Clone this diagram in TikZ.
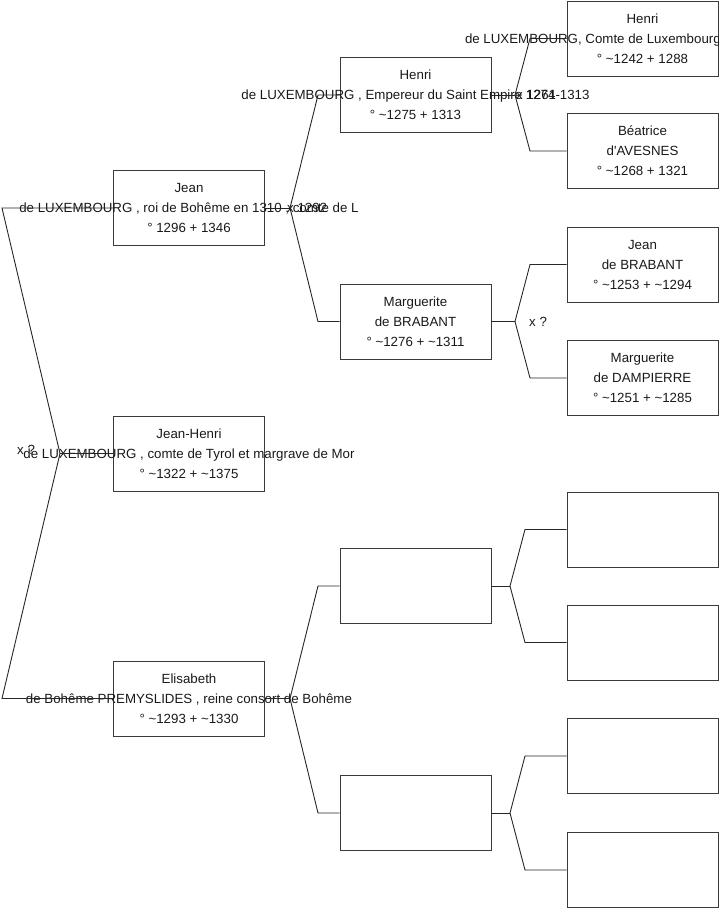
\documentclass[tikz,border=0pt]{standalone}
\usepackage{fontspec}
\setmainfont{Liberation Sans}
\definecolor{boxline}{HTML}{3A3A3A}
\definecolor{linkline}{HTML}{262626}
\newcommand{\tl}{\textasciitilde}
\begin{document}
\begin{tikzpicture}[x=1pt, y=-1pt,
    person/.style={draw=boxline, line width=0.9pt, minimum width=151pt, minimum height=75pt, inner sep=0pt},
    names/.style={align=center, font=\fontsize{13.3}{20}\selectfont, text=black!90, inner sep=0pt},
    link/.style={draw=linkline, line width=0.9pt},
    union/.style={anchor=west, font=\fontsize{13.3}{16}\selectfont, text=black!90, inner sep=0pt}]
    \useasboundingbox (0,0) rectangle (719,908);
    % generation 1
    \node[person] (jean) at (189,208) {};
    \node[person] (jeanhenri) at (189,453.5) {};
    \node[person] (elisabeth) at (189,698.5) {};
    % generation 2
    \node[person] (henri) at (415.5,95) {};
    \node[person] (marguerite) at (415.5,321.5) {};
    \node[person] (emptya) at (415.5,586) {};
    \node[person] (emptyb) at (415.5,813) {};
    % generation 3
    \node[person] (henrilux) at (642.5,38.5) {};
    \node[person] (beatrice) at (642.5,151) {};
    \node[person] (jeanbra) at (642.5,264.5) {};
    \node[person] (margdam) at (642.5,378) {};
    \node[person] (emptyc) at (642.5,529.5) {};
    \node[person] (emptyd) at (642.5,642.5) {};
    \node[person] (emptye) at (642.5,756) {};
    \node[person] (emptyf) at (642.5,870) {};
    % texts
    \node[names] (jeantxt) at (jean) {Jean\\de LUXEMBOURG , roi de Bohême en 1310 , comte de L\\° 1296 + 1346};
    \node[names] (jeanhenritxt) at (jeanhenri) {Jean-Henri\\de LUXEMBOURG ,  comte de Tyrol et margrave de Mor\\° \tl1322 + \tl1375};
    \node[names] (elisabethtxt) at (elisabeth) {Elisabeth\\de Bohême PREMYSLIDES , reine consort de Bohême\\° \tl1293 + \tl1330};
    \node[names] (henritxt) at (henri) {Henri\\de LUXEMBOURG , Empereur du Saint Empire 1274-1313\\° \tl1275 + 1313};
    \node[names] (margueritetxt) at (marguerite) {Marguerite\\de BRABANT\\° \tl1276 + \tl1311};
    \node[names] (henriluxtxt) at (henrilux) {Henri\\\makebox[355pt][l]{de LUXEMBOURG, Comte de Luxembourg}\\° \tl1242 + 1288};
    \node[names] (beatricetxt) at (beatrice) {Béatrice\\d\textquotesingle AVESNES\\° \tl1268 + 1321};
    \node[names] (jeanbratxt) at (jeanbra) {Jean\\de BRABANT\\° \tl1253 + \tl1294};
    \node[names] (margdamtxt) at (margdam) {Marguerite\\de DAMPIERRE\\° \tl1251 + \tl1285};
    % forks
    \coordinate (froot) at (60,453.5);
    \coordinate (fjean) at (290,208);
    \coordinate (fhenri) at (515,95);
    \coordinate (fmarg) at (515,321.5);
    \coordinate (felis) at (290,698.5);
    \coordinate (femptya) at (510,586);
    \coordinate (femptyb) at (510,813);
    \draw[link] (jeanhenri.west) -- (froot);
    \draw[link] (jean.west) -- (2,208) -- (froot) -- (2,698.5) -- (elisabeth.west);
    \draw[link] (jean.east) -- (fjean);
    \draw[link] (henri.west) -- (318,95) -- (fjean) -- (318,321.5) -- (marguerite.west);
    \draw[link] (henri.east) -- (fhenri);
    \draw[link] (henrilux.west) -- (530,38.5) -- (fhenri) -- (530,151) -- (beatrice.west);
    \draw[link] (marguerite.east) -- (fmarg);
    \draw[link] (jeanbra.west) -- (530,264.5) -- (fmarg) -- (530,378) -- (margdam.west);
    \draw[link] (elisabeth.east) -- (felis);
    \draw[link] (emptya.west) -- (318,586) -- (felis) -- (318,813) -- (emptyb.west);
    \draw[link] (emptya.east) -- (femptya);
    \draw[link] (emptyc.west) -- (525,529.5) -- (femptya) -- (525,642.5) -- (emptyd.west);
    \draw[link] (emptyb.east) -- (femptyb);
    \draw[link] (emptye.west) -- (525,756) -- (femptyb) -- (525,870) -- (emptyf.west);
    % unions
    \node[union] (uroot) at (17,450) {x ?};
    \node[union] (ujean) at (287,208) {x 1292};
    \node[union] (uhenri) at (516,95) {x 1261};
    \node[union] (umarg) at (529,321.5) {x ?};
\end{tikzpicture}
\end{document}
